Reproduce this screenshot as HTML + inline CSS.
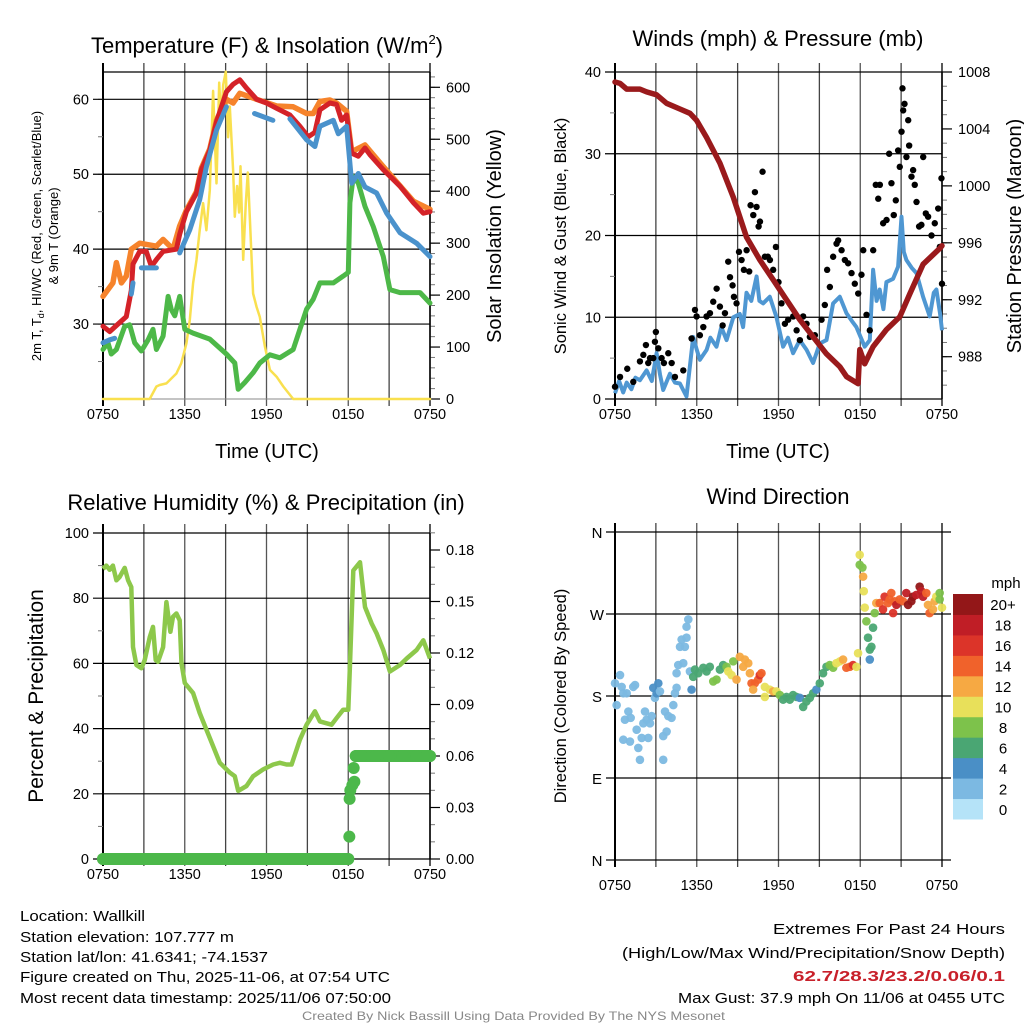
<!DOCTYPE html>
<html><head><meta charset="utf-8"><title>Wallkill Mesonet Meteogram</title>
<style>
html,body{margin:0;padding:0;background:#fff;}
svg{display:block;font-family:"Liberation Sans",Arial,sans-serif;}
</style></head>
<body>
<svg id="chart" width="1024" height="1024" viewBox="0 0 1024 1024" xmlns="http://www.w3.org/2000/svg">
<rect width="1024" height="1024" fill="#fff"/>
<!-- titles -->
<text x="267" y="53" font-size="22" text-anchor="middle">Temperature (F) &amp; Insolation (W/m<tspan dy="-9" font-size="13">2</tspan><tspan dy="9">)</tspan></text>
<text x="778" y="46" font-size="22" text-anchor="middle">Winds (mph) &amp; Pressure (mb)</text>
<text x="266" y="510" font-size="22" text-anchor="middle">Relative Humidity (%) &amp; Precipitation (in)</text>
<text x="778" y="504" font-size="22" text-anchor="middle">Wind Direction</text>
<!-- axis titles -->
<text x="267" y="458" font-size="20" text-anchor="middle">Time (UTC)</text>
<text x="778" y="458" font-size="20" text-anchor="middle">Time (UTC)</text>
<text transform="translate(41,236) rotate(-90)" font-size="13" text-anchor="middle">2m T, T<tspan font-size="9" dy="3">d</tspan><tspan dy="-3">, HI/WC (Red, Green, Scarlet/Blue)</tspan></text>
<text transform="translate(58,236) rotate(-90)" font-size="13" text-anchor="middle">&amp; 9m T (Orange)</text>
<text transform="translate(501,236) rotate(-90)" font-size="20" text-anchor="middle">Solar Insolation (Yellow)</text>
<text transform="translate(566,236) rotate(-90)" font-size="16.5" text-anchor="middle">Sonic Wind &amp; Gust (Blue, Black)</text>
<text transform="translate(1021,236) rotate(-90)" font-size="20" text-anchor="middle">Station Pressure (Maroon)</text>
<text transform="translate(43,696) rotate(-90)" font-size="21" text-anchor="middle">Percent &amp; Precipitation</text>
<text transform="translate(566,696) rotate(-90)" font-size="16.5" text-anchor="middle">Direction (Colored By Speed)</text>
<g id="plots"></g>
<!-- footer info -->
<g font-size="15" font-family="'Liberation Sans Narrow','Liberation Sans',sans-serif">
<text x="20" y="921" textLength="125" lengthAdjust="spacingAndGlyphs">Location: Wallkill</text>
<text x="20" y="942" textLength="214" lengthAdjust="spacingAndGlyphs">Station elevation: 107.777 m</text>
<text x="20" y="962" textLength="248" lengthAdjust="spacingAndGlyphs">Station lat/lon: 41.6341; -74.1537</text>
<text x="20" y="982" textLength="370" lengthAdjust="spacingAndGlyphs">Figure created on Thu, 2025-11-06, at 07:54 UTC</text>
<text x="20" y="1003" textLength="371" lengthAdjust="spacingAndGlyphs">Most recent data timestamp: 2025/11/06 07:50:00</text>
<text x="773" y="934" textLength="232" lengthAdjust="spacingAndGlyphs">Extremes For Past 24 Hours</text>
<text x="622" y="958" textLength="383" lengthAdjust="spacingAndGlyphs">(High/Low/Max Wind/Precipitation/Snow Depth)</text>
<text x="793" y="981" fill="#c8202a" font-weight="bold" textLength="212" lengthAdjust="spacingAndGlyphs">62.7/28.3/23.2/0.06/0.1</text>
<text x="678" y="1003" textLength="327" lengthAdjust="spacingAndGlyphs">Max Gust: 37.9 mph On 11/06 at 0455 UTC</text>
<text x="302" y="1020" font-size="12" fill="#888" textLength="423" lengthAdjust="spacingAndGlyphs">Created By Nick Bassill Using Data Provided By The NYS Mesonet</text>
</g>
</svg>
<script>
// ---- Temperature panel data (hours after 0750 UTC) ----
const redT = [0,0.49,1.22,1.71,2.08,2.2,2.69,3.18,3.55,3.92,4.41,5.39,5.63,6.12,6.86,7.22,7.84,8.33,9.06,9.55,10.04,10.53,11.27,12.0,12.74,13.72,14.45,15.06,15.55,15.92,16.65,17.14,17.51,17.88,18.25,18.74,19.23,19.59,20.57,21.8,22.78,23.51,24];
const redV = [29.7,29.0,30.2,31.0,34.5,38.0,39.7,39.7,37.7,38.6,39.7,40.0,42.0,45.0,47.5,50.6,53.2,57.0,61.0,62.0,62.6,61.5,60.0,59.5,58.8,57.9,56.4,55.0,55.6,58.6,59.5,59.3,57.2,57.9,52.8,52.4,53.5,52.6,50.6,48.4,46.2,44.8,45.0];
const orangeT = [0,0.73,0.98,1.35,1.71,2.08,2.69,3.92,4.41,5.14,5.63,6.12,6.86,7.22,7.84,8.33,9.06,9.55,10.04,11.27,12.74,13.96,14.94,15.43,15.92,16.65,17.14,17.88,18.25,19.23,20.57,22.78,24];
const orangeV = [33.7,35.5,38.2,35.5,36.4,40.0,40.8,40.4,41.3,40.0,43.1,45.2,47.7,50.8,53.4,57.2,60.0,59.5,60.8,60.0,59.1,59.0,58.1,58.1,59.7,59.9,59.5,58.4,53.0,53.9,51.0,46.4,45.3];
const blueT = [0,0.49,0.86,1.2,2.08,2.2,2.5,2.82,3.92,4.5,5.63,6.37,7.1,7.59,8.33,9.06,10.0,11.12,12.47,13.2,13.72,14.94,15.55,15.92,16.9,17.27,17.88,18.25,18.74,19.23,20.08,20.82,21.8,23.02,24];
const blueV = [27.5,27.9,28.1,null,34.0,35.5,null,37.5,37.5,null,39.5,42.6,46.6,51.0,55.9,59.0,null,58.1,57.2,null,57.4,54.6,53.7,56.4,57.2,55.4,56.4,48.8,50.1,48.3,47.5,44.8,42.2,40.8,39.0];
const greenT = [0,0.37,0.61,0.98,1.59,1.96,2.33,2.82,3.31,3.67,3.92,4.41,4.78,5.02,5.27,5.63,6.0,6.61,7.84,9.06,9.67,9.92,10.41,11.02,11.51,12.25,12.98,13.96,14.45,14.94,15.43,15.92,16.9,17.63,18.0,18.12,18.37,18.74,19.23,19.84,20.57,21.06,21.8,22.29,23.27,24];
const greenV = [26.6,27.5,26.0,26.6,29.7,29.9,27.5,26.4,27.9,29.3,26.6,28.4,33.7,31.9,31.1,33.7,29.3,28.8,28.0,26.0,24.8,21.3,22.2,23.5,24.8,25.9,25.5,26.6,29.3,32.0,33.3,35.5,35.5,36.4,36.9,46.2,49.7,48.8,45.7,43.0,39.0,34.6,34.2,34.2,34.2,32.8];
const solarT = [0,3.43,3.92,4.16,4.65,5.39,5.75,6.12,6.37,6.61,6.86,7.1,7.35,7.59,7.84,8.08,8.33,8.53,8.67,8.82,9.01,9.18,9.31,9.55,9.67,9.84,9.99,10.09,10.29,10.48,10.63,10.78,11.02,11.27,11.51,11.88,12.25,12.74,13.23,13.96,24];
const solarV = [0,0,24,27,30,49,69,107,152,223,268,325,377,325,402,593,415,609,535,605,630,504,563,441,351,410,359,448,268,377,436,346,203,177,158,101,56,43,24,0,0];
const tempTicks = [30,40,50,60];
const solarTicks = [0,100,200,300,400,500,600];
const timeLabels = ["0750","1350","1950","0150","0750"];
// ---- Wind / pressure panel data ----
const presT = [0,0.37,0.86,1.83,2.32,3.05,3.79,4.76,5.5,5.99,6.72,7.7,8.68,9.65,10.63,11.61,12.59,13.56,14.54,15.52,16.5,16.99,17.84,17.97,18.33,18.94,19.92,20.9,21.63,22.61,23.83,24];
const presV = [1007.3,1007.2,1006.8,1006.8,1006.6,1006.4,1005.8,1005.4,1005.1,1004.6,1003.4,1001.6,999.2,996.4,994.8,993.4,992.0,990.6,989.4,988.2,987.3,986.6,986.1,988.5,987.5,988.7,989.9,990.8,992.4,994.5,995.6,995.8];
const windT = [0,0.3,0.6,0.86,1.2,1.5,1.83,2.32,2.7,3.05,3.3,3.54,4.03,4.4,4.76,5.25,5.74,6.0,6.23,6.72,7.0,7.45,7.8,8.19,8.68,9.16,9.4,9.65,10.0,10.39,10.6,10.87,11.36,11.85,12.34,12.7,13.07,13.56,14.06,14.54,15.03,15.52,16.01,16.5,16.99,17.4,17.72,18.33,18.7,18.94,19.2,19.43,19.7,19.92,20.41,20.78,21.03,21.2,21.39,21.8,22.13,22.61,23.1,23.4,23.59,23.85,24];
const windV = [0.7,2.2,0.8,2.0,1.2,2.6,2.3,3.5,2.2,5.6,3.0,1.1,3.1,2.0,1.9,0.3,7.6,6.0,4.8,6.0,7.5,6.4,8.8,7.2,10.0,10.4,8.8,13.0,12.0,15.0,12.0,11.7,12.5,10.0,6.4,7.5,5.6,7.2,6.0,4.4,6.8,7.2,11.7,12.5,10.5,9.5,8.8,6.4,7.2,15.8,12.0,13.4,11.0,14.3,14.7,16.2,22.3,18.0,17.0,16.0,15.4,12.5,10.1,13.0,13.4,10.5,8.4];
const gustT = [0.0,0.37,0.9,1.34,1.83,2.08,2.27,2.44,2.57,2.81,2.93,3.0,3.18,3.42,3.59,3.91,4.16,4.4,5.01,5.62,5.87,5.99,6.23,6.48,6.72,6.97,7.21,7.46,7.7,7.9,8.07,8.31,8.44,8.63,8.73,8.92,9.1,9.29,9.46,9.66,9.85,9.95,10.15,10.27,10.39,10.54,10.64,10.83,11.0,11.22,11.37,11.61,11.81,12.0,12.22,12.47,12.71,13.08,13.33,13.57,13.81,14.06,14.3,14.67,15.16,15.4,15.57,15.77,16.01,16.26,16.38,16.63,16.87,17.11,17.36,17.6,17.85,18.09,18.22,18.46,18.7,18.95,19.14,19.32,19.44,19.68,19.93,20.12,20.29,20.46,20.61,20.78,20.9,21.03,21.1,21.15,21.25,21.39,21.52,21.59,21.76,21.88,22.0,22.13,22.32,22.49,22.62,22.81,22.98,23.23,23.47,23.72,23.84,23.96,24.0];
const gustV = [1.5,2.7,3.7,2.1,4.6,5.4,6.6,4.4,5.0,5.0,7.0,8.2,6.2,5.0,4.4,5.6,4.4,2.7,3.5,7.4,10.9,10.1,7.8,8.8,10.1,10.5,11.9,13.5,11.3,9.0,10.5,16.8,14.9,13.9,12.5,11.7,18.0,17.0,15.8,18.2,15.6,23.7,22.5,25.3,23.5,21.1,21.7,27.8,17.4,17.4,17.0,15.8,18.6,14.3,11.7,9.2,9.7,10.1,8.4,7.2,10.1,9.2,7.6,7.8,9.7,11.5,15.8,13.7,17.4,19.0,19.4,18.2,17.0,16.6,15.4,14.1,12.9,15.2,18.2,10.3,8.4,18.2,26.2,24.5,26.2,21.5,21.9,30.0,26.4,22.5,24.3,30.4,28.4,32.7,38.0,35.3,36.1,29.6,34.1,31.0,27.2,28.0,26.2,24.1,21.1,21.3,29.6,22.7,22.3,20.0,21.5,23.3,18.6,27.0,14.1];
const windTicks = [0,10,20,30,40];
const presTicks = [988,992,996,1000,1004,1008];
// ---- RH / precip panel data ----
const rhT = [0,0.24,0.49,0.73,0.98,1.22,1.59,1.84,2.08,2.2,2.45,2.82,3.06,3.43,3.67,3.87,4.04,4.41,4.65,4.95,5.14,5.39,5.63,5.76,6.0,6.61,7.1,7.59,8.08,8.57,9.31,9.67,9.92,10.53,11.02,11.76,12.49,12.98,13.47,13.84,14.45,14.94,15.55,15.92,16.78,17.14,17.63,18.0,18.12,18.37,18.86,19.23,19.72,20.08,20.57,21.06,21.8,22.29,23.02,23.51,24];
const rhV = [89,90,88.7,90,85.5,86.5,89.3,85.5,83.4,65,59.5,58.5,61,68,71.2,61,60.5,65,78.8,69.7,74.3,75.3,73.2,60,54,50.9,44.8,39.7,34.6,29.5,26.5,25.4,20.9,22.4,25.4,27.5,29,29.5,29,29,36.6,41.2,45.3,42.2,41.2,43.2,45.8,45.8,59,88.5,91,77.3,72.2,69.2,64.1,57.5,59.5,61.5,64.1,67.1,61.5];
const precipT = [0,2,4,6,8,10,12,14,16,17,18.0,18.08,18.1,18.15,18.3,18.45,18.4,18.55,18.65,19,20,21,22,23,24];
const precipV = [0,0,0,0,0,0,0,0,0,0,0,0.013,0.035,0.040,0.043,0.045,0.053,0.06,0.06,0.06,0.06,0.06,0.06,0.06,0.06];
const rhTicks = [0,20,40,60,80,100];
const precipTicks = [0,0.03,0.06,0.09,0.12,0.15,0.18];
// ---- Wind direction panel data ----
const dirT = [0,0.12,0.37,0.49,0.61,0.73,0.86,0.61,0.98,1.1,1.15,1.34,1.47,1.59,1.71,1.83,1.96,2.08,2.2,2.32,2.44,2.57,2.69,2.81,2.93,3.05,3.18,3.3,3.54,3.54,3.67,3.79,3.91,4.15,4.28,4.4,4.52,4.52,4.64,4.77,4.89,5.01,5.13,5.25,5.25,5.38,5.5,5.62,5.74,5.87,6.11,6.48,6.72,6.96,7.21,7.45,7.7,7.94,8.19,8.31,8.55,8.68,8.92,9.16,9.41,9.53,9.78,9.9,10.02,10.26,10.51,10.63,10.75,10.14,11.0,11.36,11.61,11.85,11.0,12.1,12.34,12.59,12.83,13.07,13.32,13.56,13.81,14.05,14.3,14.54,14.78,15.03,15.27,15.52,15.76,16.01,16.25,16.5,16.74,16.98,17.23,17.47,17.72,17.84,17.96,17.96,18.16,18.21,18.26,18.33,18.45,18.57,18.7,18.82,18.7,18.94,19.06,19.18,19.43,19.67,19.79,20.04,20.16,20.28,20.41,20.53,20.65,20.89,21.14,21.38,21.51,21.75,21.87,22.12,22.36,22.48,22.61,22.85,22.97,23.09,23.34,23.46,23.58,23.83,23.83,24];
const dirV = [194,170,203,190,183,154,183,132,163,130,156,190,192,143,123,110,134,150,163,154,134,150,158,189,178,183,194,185,136,110,163,141,158,156,170,183,189,205,214,234,242,216,234,244,256,264,207,187,201,209,205,211,207,212,196,198,209,214,212,207,203,218,198,223,212,220,216,205,194,194,198,203,205,187,190,187,185,185,179,181,176,179,176,181,179,178,168,174,178,183,187,194,205,212,214,211,216,218,220,211,212,214,212,227,335,324,321,311,295,277,262,244,231,234,220,255,271,282,282,275,289,282,286,293,271,284,280,286,284,293,280,284,289,291,300,295,289,293,280,271,275,284,289,293,286,277];
const dirS = [1,1,2,2,2,1,2,1,2,1,1,2,2,1,2,2,2,2,2,2,1,2,2,3,2,4,4,2,1,1,2,2,2,2,1,2,2,1,1,1,1,2,2,2,1,1,1,4,6,6,5,6,6,6,7,8,6,6,7,10,9,7,11,12,12,12,12,11,14,14,14,15,14,12,10,10,11,10,10,7,6,6,6,5,5,4,6,6,6,5,4,5,6,6,7,8,9,10,12,13,14,16,10,10,10,8,8,11,10,10,8,6,6,6,4,6,8,12,14,16,16,14,13,14,16,14,17,14,13,18,19,20,20,18,19,18,17,14,12,13,12,11,10,8,8,10,12,14,13,7];
const dirLabels = ["N","E","S","W","N"];
const speedLabels = ["0","2","4","6","8","10","12","14","16","18","20+"];
const speedColors = ["#b5e3f8","#7cb9e2","#4a8fc6","#4aa673","#7dc24b","#e8e05a","#f6a943","#f0622b","#dc3429","#c01e26","#931718"];
const NS = "http://www.w3.org/2000/svg";
const root = document.getElementById("plots");
function mk(tag, attrs, parent){ const e=document.createElementNS(NS,tag); for(const k in attrs) e.setAttribute(k,attrs[k]); (parent||root).appendChild(e); return e; }
function axisX(x0,x1){ return h => x0 + h/24*(x1-x0); }
function axisY(y0,y1,v0,v1){ return v => y0 - (v-v0)/(v1-v0)*(y0-y1); }
function linePath(T,V,sx,sy){ let d="",pen=false; for(let i=0;i<T.length;i++){ if(V[i]===null){pen=false;continue;} d+=(pen?"L":"M")+sx(T[i]).toFixed(1)+","+sy(V[i]).toFixed(1); pen=true;} return d; }
function frame(name,x0,x1,yT,yB){
  const g=mk("g",{});
  
  
  const sx=axisX(x0,x1);
  for(let k=0;k<=8;k++){ const x=sx(k*3); const l=mk("line",{x1:x,x2:x,y1:yT-9,y2:yB+7,stroke:(k===0||k===8)?"#000":(k%2?"#444":"#555"),"stroke-width":(k===0)?2:1.3},g);
      }
  for(let i=0;i<5;i++){ const t=mk("text",{x:sx(i*6),y:yB+20,"font-size":"14.5","text-anchor":"middle"},g); t.textContent=timeLabels[i];
      }
  return {g,sx};
}
function yAxis(g,x,side,ticks,sy,minor,fmt,yT,yB,grid,xR){
  for(const v of minor){ const y=sy(v); if(y<yT-0.5||y>yB+0.5) continue; const l=mk("line",{x1:x,x2:x+side*5,y1:y,y2:y,stroke:"#777","stroke-width":1},g);
      }
  for(const v of ticks){ const y=sy(v); const l=mk("line",{x1:grid?xR:x,x2:x+side*10,y1:y,y2:y,stroke:"#000","stroke-width":1.2},g);
     
    const t=mk("text",{x:x+side*(side<0?14:16),y:y+5,"font-size":"14.5","text-anchor":side<0?"end":"start"},g); t.textContent=fmt(v);
      }
}
function range(a,b,s){ const r=[]; for(let v=a;v<=b+1e-9;v+=s) r.push(+v.toFixed(4)); return r; }

// ===== Panel 1: temperature =====
(function(){
  const x0=103,x1=430,yT=72,yB=399;
  const {g,sx}=frame("temp",x0,x1,yT,yB);
  const sy=axisY(399,99.3,20,60);
  const ss=axisY(399,87.3,0,600);
  mk("line",{x1:x0,x2:x1,y1:yT,y2:yT,stroke:"#000","stroke-width":1.2},g);
  mk("line",{x1:x0,x2:x1,y1:yB,y2:yB,stroke:"#888","stroke-width":1},g);
  yAxis(g,x0,-1,tempTicks,sy,range(25,60,5),v=>v,yT,yB,true,x1);
  yAxis(g,x1,1,solarTicks,ss,range(0,620,20),v=>v,yT,yB,false,x0);
  mk("line",{x1:x1,x2:x1,y1:yT,y2:yB,stroke:"#000","stroke-width":1.5},g);
  const series=[["solar-line",solarT,solarV,ss,"#f9e04f",2.5],["dewpoint-line",greenT,greenV,sy,"#4db848",5],["temp-9m-line",orangeT,orangeV,sy,"#f6832b",5.5],["temp-2m-line",redT,redV,sy,"#d42228",5],["heat-index-wind-chill-line",blueT,blueV,sy,"#4a92cc",5]];
  for(const s of series){ const p=mk("path",{d:linePath(s[1],s[2],sx,s[3]),fill:"none",stroke:s[4],"stroke-width":s[5],"stroke-linejoin":"round","stroke-linecap":"round"});
      }
})();

// ===== Panel 2: wind & pressure =====
(function(){
  const x0=615,x1=942,yT=72,yB=399;
  const {g,sx}=frame("wind",x0,x1,yT,yB);
  const sy=axisY(399,72,0,40);
  const sp=axisY(356.7,72,988,1008);
  yAxis(g,x0,-1,windTicks,sy,range(5,35,10),v=>v,yT,yB,true,x1);
  yAxis(g,x1,1,presTicks,sp,range(986,1008,1),v=>v,yT,yB,false,x0);
  mk("line",{x1:x1,x2:x1,y1:yT,y2:yB,stroke:"#000","stroke-width":1.5},g);
  const b=mk("path",{d:linePath(windT,windV,sx,sy),fill:"none",stroke:"#4f97d2","stroke-width":4,"stroke-linejoin":"round"});
   
  for(let i=0;i<gustT.length;i++){ const c=mk("circle",{cx:sx(gustT[i]),cy:sy(gustV[i]),r:3.2,fill:"#000"});
      }
  const p=mk("path",{d:linePath(presT,presV,sx,sp),fill:"none",stroke:"#9a1a1c","stroke-width":5.5,"stroke-linejoin":"round","stroke-linecap":"round"});
   
})();

// ===== Panel 3: RH & precip =====
(function(){
  const x0=103,x1=430,yT=533,yB=859;
  const {g,sx}=frame("rh",x0,x1,yT,yB);
  const sy=axisY(859,533,0,100);
  const sp=axisY(859,550,0,0.18);
  yAxis(g,x0,-1,rhTicks,sy,range(10,90,20),v=>v,yT,yB,true,x1);
  yAxis(g,x1,1,precipTicks,sp,range(0,0.19,0.01),v=>v.toFixed(2),yT,yB,false,x0);
  mk("line",{x1:x1,x2:x1,y1:yT,y2:yB,stroke:"#000","stroke-width":1.5},g);
  const l=mk("path",{d:linePath(rhT,rhV,sx,sy),fill:"none",stroke:"#8dc84b","stroke-width":4.5,"stroke-linejoin":"round"});
   
  for(let i=0;i+1<precipT.length;i++){ if(precipV[i]!==precipV[i+1]) continue;
    const s=mk("line",{x1:sx(precipT[i]),x2:sx(precipT[i+1]),y1:sp(precipV[i]),y2:sp(precipV[i+1]),stroke:"#4cb84a","stroke-width":12,"stroke-linecap":"round"});
      }
  for(let i=0;i<precipT.length;i++){ const c=mk("circle",{cx:sx(precipT[i]),cy:sp(precipV[i]),r:6,fill:"#4cb84a"});
      }
})();

// ===== Panel 4: wind direction =====
(function(){
  const x0=615,x1=942,yT=532,yB=860;
  const {g,sx}=frame("direction",x0,x1,yT,yB);
  for(const t of g.querySelectorAll("text")) t.setAttribute("y", yB+30);
  const sy=axisY(860,532,0,360);
  for(let i=0;i<5;i++){ const y=sy(i*90);
    const l=mk("line",{x1:x0-9,x2:x1+9,y1:y,y2:y,stroke:"#000","stroke-width":1.2},g);
     
    const t=mk("text",{x:597,y:y+6,"font-size":"15","text-anchor":"middle"},g); t.textContent=dirLabels[i];
      }
  for(let i=0;i<dirT.length;i++){ const bin=Math.min(10,Math.max(0,Math.round(dirS[i]/2)));
    const c=mk("circle",{cx:sx(dirT[i]),cy:sy(dirV[i]),r:4.3,fill:speedColors[bin],"fill-opacity":0.95});
      }
  const lg=mk("g",{});
   
  const h=225/11;
  for(let i=0;i<11;i++){ const y=819-(i+1)*h;
    const r=mk("rect",{x:953,y:y,width:30,height:h+0.5,fill:speedColors[i]},lg);
     
    const t=mk("text",{x:1003,y:y+h/2+6,"font-size":"15","text-anchor":"middle"},lg); t.textContent=speedLabels[i];
      }
  const u=mk("text",{x:1006,y:588,"font-size":"15","text-anchor":"middle"},lg); u.textContent="mph";
   
})();
</script>
</body></html>
